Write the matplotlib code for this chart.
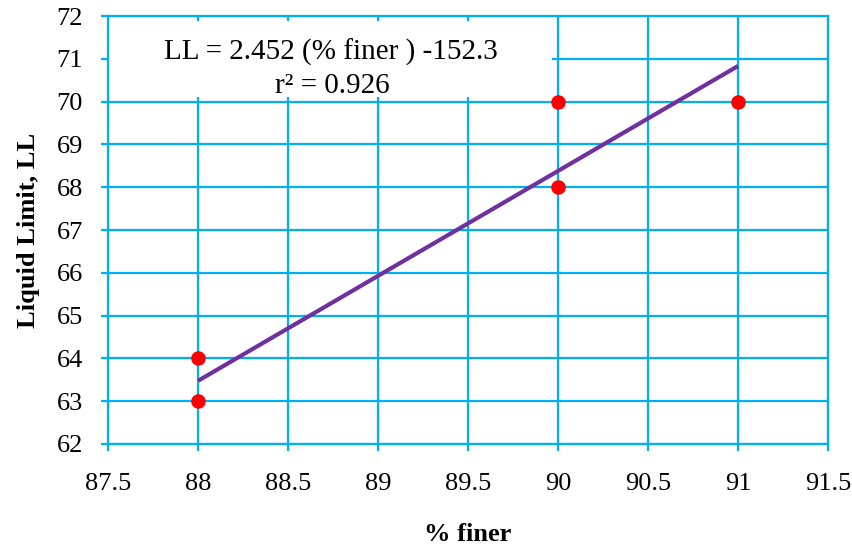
import matplotlib
matplotlib.use("Agg")
import matplotlib.pyplot as plt
from matplotlib.patches import Rectangle
import numpy as np

# Measured samples
pct_finer = [88, 88, 90, 90, 91]
liquid_limit = [63, 64, 68, 70, 70]

# Reported linear fit
slope = 2.452
intercept = -152.3
r_squared = 0.926

x_ticks = [87.5, 88, 88.5, 89, 89.5, 90, 90.5, 91, 91.5]
y_ticks = [62, 63, 64, 65, 66, 67, 68, 69, 70, 71, 72]

grid_color = "#00B0F0"
plt.rcParams["font.family"] = ["Liberation Serif", "DejaVu Serif"]

fig = plt.figure(figsize=(8.53, 5.47), dpi=100)
ax = fig.add_axes([0.1266, 0.1883, 0.8441, 0.7824])

ax.set_xlim(x_ticks[0], x_ticks[-1])
ax.set_ylim(y_ticks[0], y_ticks[-1])
ax.set_xticks(x_ticks)
ax.set_yticks(y_ticks)
ax.set_xticklabels([f"{t:g}" for t in x_ticks])
ax.set_yticklabels([f"{t:g}" for t in y_ticks])

ax.set_axisbelow(True)
ax.grid(True, color=grid_color, linewidth=1.6)
for s in ax.spines.values():
    s.set_color(grid_color)
    s.set_linewidth(1.6)
ax.tick_params(axis="both", which="major", direction="out", length=5,
               width=1.6, color=grid_color, labelsize=19)
ax.tick_params(axis="x", pad=16)
ax.tick_params(axis="y", pad=13)

# Fit line across the measured range
fx = np.array([min(pct_finer), max(pct_finer)])
fy = slope * fx + intercept
ax.plot(fx, fy, color="#7030A0", linewidth=3, zorder=3, solid_capstyle="butt")

ax.plot(pct_finer, liquid_limit, "o", color="#FF0000", markersize=10.5,
        markeredgewidth=0, zorder=4)

# White label panel holding the equation
ax.add_patch(Rectangle((0.002, 0.8107), 0.615, 0.1783, transform=ax.transAxes,
                       facecolor="white", edgecolor="none", zorder=1))
ax.text(0.3097, 0.897, f"LL = {slope:.3f} (% finer ) -{abs(intercept):.1f}",
        transform=ax.transAxes, ha="center", va="baseline", fontsize=21, zorder=5)
ax.text(0.311, 0.820, f"r\u00b2 = {r_squared:.3f}",
        transform=ax.transAxes, ha="center", va="baseline", fontsize=21, zorder=5)

ax.set_xlabel("% finer", fontsize=19, fontweight="bold", labelpad=20)
ax.set_ylabel("Liquid Limit, LL", fontsize=19, fontweight="bold", labelpad=12)

fig.savefig("out.png", dpi=100)
